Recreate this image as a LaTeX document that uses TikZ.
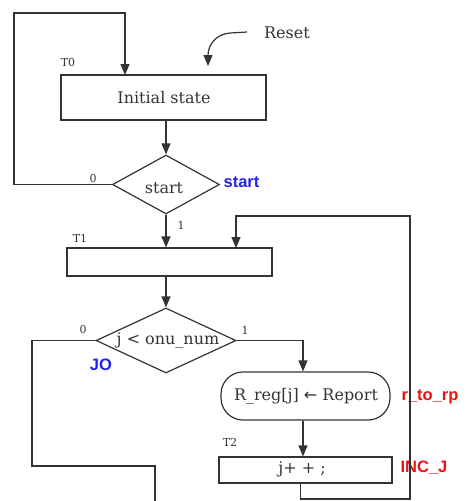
\documentclass[tikz,border=0pt]{standalone}
\usepackage{fontspec}
\setmainfont{DejaVu Serif}
\newfontfamily\symf{DejaVu Sans}
\newfontfamily\lblf{Liberation Sans}
\usetikzlibrary{shapes.geometric,arrows.meta}
\definecolor{ln}{HTML}{333333}
\definecolor{bl}{HTML}{2222EE}
\definecolor{rd}{HTML}{EE1111}
\begin{document}
\begin{tikzpicture}[x=1pt,y=-1pt,
  line width=1.2pt, draw=ln,
  arr/.style={-{Triangle[width=9pt,length=11pt]}, draw=ln},
  box/.style={draw=ln, rectangle, inner sep=0pt},
  dia/.style={draw=ln, diamond, inner sep=0pt},
  txt/.style={text=ln, font=\fontsize{16}{19}\selectfont, inner sep=0pt},
  sm/.style={text=ln, font=\fontsize{11}{13}\selectfont, inner sep=0pt},
  bluel/.style={text=bl, font=\lblf\bfseries\fontsize{16.5}{19}\selectfont, inner sep=0pt},
  redl/.style={text=rd, font=\lblf\bfseries\fontsize{16.5}{19}\selectfont, inner sep=0pt}]
\useasboundingbox (0,0) rectangle (468,501);
\fill[white] (0,0) rectangle (468,501);

% nodes
\node[box, minimum width=205pt, minimum height=45pt] (init) at (163.5,97.5) {};
\node[txt] (initt) at (164,98) {Initial state};
\node[dia, minimum width=107pt, minimum height=59pt] (d1) at (166,184.5) {};
\node[txt] (d1t) at (164,188) {start};
\node[box, minimum width=205pt, minimum height=28pt] (t1) at (169.5,262) {};
\node[dia, minimum width=140pt, minimum height=65pt] (d2) at (166,340.5) {};
\node[txt] (d2t) at (168,340) {j < onu\_num};
\node[box, rounded corners=22pt, minimum width=169pt, minimum height=48pt] (rr) at (305.5,396) {};
\node[txt] (rrt) at (306,396) {R\_reg[j] {\symf ←} Report};
\node[box, minimum width=173pt, minimum height=26pt] (t2) at (305.5,470) {};
\node[txt] (t2t) at (302,469) {j+ + ;};

% labels
\node[sm] (l0) at (68,62) {T0};
\node[sm] (l1) at (93,178) {0};
\node[bluel, anchor=west] (ls) at (223,182) {start};
\node[sm] (l2) at (181,225) {1};
\node[sm] (l3) at (80,238) {T1};
\node[sm] (l4) at (83,329) {0};
\node[sm] (l5) at (245,330) {1};
\node[bluel] (ljo) at (101,365) {JO};
\node[redl, anchor=west] (lr) at (401,397) {r\_to\_rp};
\node[sm] (l6) at (230,442) {T2};
\node[redl, anchor=west] (li) at (400,468) {INC\_J};
\node[txt] (reset) at (287,33) {Reset};

% coordinates
\coordinate (a1) at (14,13);
\coordinate (a2) at (125,75);
\coordinate (rs) at (247,32);
\coordinate (rs2) at (230,33);
\coordinate (rsend) at (208,66);
\coordinate (b1) at (32,466);
\coordinate (b2) at (155,501);
\coordinate (c1) at (410,499);
\coordinate (c2) at (236,216);
\coordinate (c3) at (236,248);

% connectors
\draw[arr] (d1.west) -| (a1) -| (a2);
\draw[arr] (rs) -- (rs2) .. controls (216,34) and (208,45) .. (rsend);
\draw[arr] (init.south -| d1.north) -- (d1.north);
\draw[arr] (d1.south) -- (d1.south |- t1.north);
\draw[arr] (t1.south -| d2.north) -- (d2.north);
\draw (d2.west) -| (b1) -| (b2);
\draw[arr] (d2.east) -| ([xshift=-2.5pt]rr.north);
\draw[arr] ([xshift=-2.5pt]rr.south) -- ([xshift=-2.5pt]t2.north);
\draw[arr] ([xshift=-5pt]t2.south) |- (c1) |- (c2) -- (c3);
\end{tikzpicture}
\end{document}
